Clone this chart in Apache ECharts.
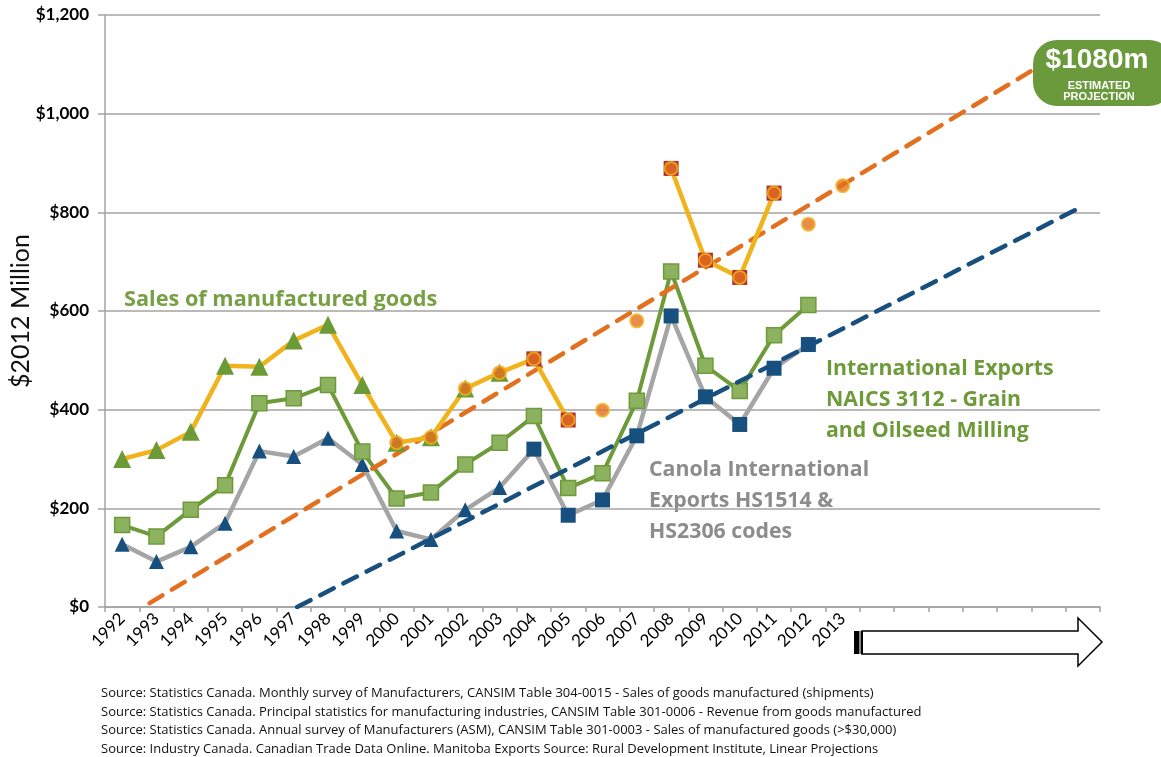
<!DOCTYPE html>
<html style="height: 100%">
<head>
    <meta charset="utf-8">
    <title>Manitoba grain and oilseed milling</title>
</head>
<body style="height: 100%; margin: 0">
<div id="container" style="width: 1161px; height: 757px"></div>

<script src="https://cdn.jsdelivr.net/npm/echarts@6/dist/echarts.min.js"></script>
<script type="text/javascript">
// years on the category axis (2014-2020 are left blank, room for the projection)
var years = [];
for (var y = 1992; y <= 2020; y++) years.push(String(y));
var lastLabelYear = 2013;

// Monthly survey of manufacturers - yellow line (1992-2011)
var salesShipments = [300, 318, 355, 489, 487, 540, 572, 450, 333, 344, 443, 475, 503, 379, null, null, 889, 703, 668, 839];
// Annual survey of manufacturers - orange dots (2000-2013)
var asmYears = [2000, 2001, 2002, 2003, 2004, 2005, 2006, 2007, 2008, 2009, 2010, 2011, 2012, 2013];
var asmSales = [333, 344, 443, 475, 503, 379, 399, 580, 889, 703, 668, 839, 776, 854];
// International exports NAICS 3112 (1992-2012)
var naicsExports = [166, 143, 197, 247, 413, 423, 450, 315, 220, 232, 289, 333, 387, 241, 271, 418, 680, 489, 438, 551, 612];
// Canola international exports HS1514 & HS2306 (1992-2012)
var canolaExports = [127, 92, 122, 170, 316, 305, 342, 289, 154, 137, 197, 242, 320, 186, 217, 347, 590, 426, 370, 484, 532];
// linear projections [year, value]
var salesTrend = [[1992.8, 8], [2018.6, 1091]];
var canolaTrend = [[1997.1, 0], [2019.9, 809]];

var sources = [
    'Source: Statistics Canada. Monthly survey of Manufacturers, CANSIM Table 304-0015 - Sales of goods manufactured (shipments)',
    'Source: Statistics Canada. Principal statistics for manufacturing industries, CANSIM Table 301-0006 - Revenue from goods manufactured',
    'Source: Statistics Canada. Annual survey of Manufacturers (ASM), CANSIM Table 301-0003 - Sales of manufactured goods (>$30,000)',
    'Source: Industry Canada. Canadian Trade Data Online. Manitoba Exports Source: Rural Development Institute, Linear Projections'
];

var GREEN = '#6E9B3A', YELLOW = '#F1B31C', NAVY = '#17507E', ORANGE = '#E3701F', GRID = '#A3A3A3';
var font = 'Lato, "Open Sans", sans-serif';
var noteFont = '"Open Sans", sans-serif';

var myChart = echarts.init(document.getElementById('container'));

var shipmentData = salesShipments.map(function (v, i) {
    var redSquare = i >= 12;
    return {
        value: v,
        symbol: redSquare ? 'rect' : 'triangle',
        symbolSize: redSquare ? 15 : 18,
        itemStyle: { color: redSquare ? '#B3302A' : '#6B9A36', borderWidth: 0 }
    };
});
var canolaData = canolaExports.map(function (v, i) {
    return { value: v, symbol: i >= 12 ? 'rect' : 'triangle', symbolSize: 15 };
});
var asmData = asmYears.map(function (yr, i) { return [String(yr), asmSales[i]]; });

option = {
    backgroundColor: '#ffffff',
    animation: false,
    textStyle: { fontFamily: font },
    grid: { left: 105, right: 61, top: 15, bottom: 150, containLabel: false, outerBoundsMode: 'none' },
    xAxis: [{
        type: 'category',
        data: years,
        boundaryGap: true,
        axisLine: { lineStyle: { color: GRID, width: 1.5 } },
        axisTick: { show: true, length: 5, lineStyle: { color: GRID, width: 1.5 } },
        axisLabel: {
            interval: 0,
            rotate: 45,
            margin: 9,
            color: '#000',
            fontSize: 17,
            fontFamily: font,
            formatter: function (v) { return +v <= lastLabelYear ? v : ''; }
        },
        splitLine: { show: false }
    }, {
        type: 'value',
        show: false,
        min: 1991.5,
        max: 2020.5
    }],
    yAxis: {
        type: 'value',
        min: 0,
        max: 1200,
        interval: 200,
        name: '$2012 Million',
        nameLocation: 'middle',
        nameGap: 72,
        nameMoveOverlap: false,
        nameTextStyle: { fontSize: 25, color: '#111', fontFamily: font },
        axisLine: { show: true, lineStyle: { color: GRID, width: 1.5 } },
        axisTick: { show: true, length: 7, lineStyle: { color: GRID, width: 1.5 } },
        axisLabel: {
            margin: 16,
            color: '#000',
            fontSize: 17,
            fontWeight: 'bold',
            fontFamily: font,
            formatter: function (v) { return '$' + v.toLocaleString('en-US'); }
        },
        splitLine: { lineStyle: { color: GRID, width: 1.5 } }
    },
    series: [
        {
            name: 'Canola International Exports HS1514 & HS2306',
            type: 'line',
            data: canolaData,
            lineStyle: { color: '#A5A5A5', width: 4.5 },
            itemStyle: { color: NAVY },
            z: 2
        },
        {
            name: 'International Exports NAICS 3112',
            type: 'line',
            data: naicsExports,
            symbol: 'rect',
            symbolSize: 15,
            lineStyle: { color: GREEN, width: 4 },
            itemStyle: { color: '#8DB25F', borderColor: GREEN, borderWidth: 1.5 },
            z: 3
        },
        {
            name: 'Canola projection',
            type: 'line',
            xAxisIndex: 1,
            data: canolaTrend,
            showSymbol: false,
            lineStyle: { color: NAVY, width: 4.5, type: [15, 11], cap: 'round' },
            z: 4
        },
        {
            name: 'Sales projection',
            type: 'line',
            xAxisIndex: 1,
            data: salesTrend,
            showSymbol: false,
            lineStyle: { color: ORANGE, width: 4.5, type: [15, 11], cap: 'round' },
            z: 4
        },
        {
            name: 'Sales of manufactured goods',
            type: 'line',
            data: shipmentData,
            connectNulls: false,
            lineStyle: { color: YELLOW, width: 4.5 },
            z: 5
        },
        {
            name: 'ASM sales',
            type: 'scatter',
            data: asmData,
            symbol: 'circle',
            symbolSize: 13,
            itemStyle: { color: ORANGE, borderColor: YELLOW, borderWidth: 2 },
            z: 6
        }
    ],
    graphic: [
        { type: 'text', left: 124, top: 289, style: { text: 'Sales of manufactured goods', fill: '#76A043', font: 'bold 21.7px ' + noteFont } },
        { type: 'text', left: 826, top: 353, style: { text: 'International Exports\nNAICS 3112 - Grain\nand Oilseed Milling', fill: '#6E9B3A', font: 'bold 21.3px ' + noteFont, lineHeight: 31 } },
        { type: 'text', left: 649, top: 454, style: { text: 'Canola International\nExports HS1514 &\nHS2306 codes', fill: '#8C8C8C', font: 'bold 21.3px ' + noteFont, lineHeight: 31 } },
        // projection badge
        { type: 'rect', shape: { x: 1033, y: 40, width: 140, height: 66, r: 24 }, style: { fill: '#6B9A3C' }, z: 10 },
        { type: 'text', x: 1097, y: 60, style: { text: '$1080m', fill: '#fff', font: 'bold 28px "Liberation Sans", Arial, sans-serif', align: 'center', verticalAlign: 'middle' }, z: 11 },
        { type: 'text', x: 1099, y: 91, style: { text: 'ESTIMATED\nPROJECTION', fill: '#fff', font: 'bold 11px "Liberation Sans", Arial, sans-serif', align: 'center', verticalAlign: 'middle', lineHeight: 11 }, z: 11 },
        // arrow pointing to the projected years
        { type: 'polygon', shape: { points: [[862, 631], [1078, 631], [1078, 618], [1102, 642], [1078, 666], [1078, 654], [862, 654]] }, style: { fill: '#fff', stroke: '#000', lineWidth: 1.5 } },
        { type: 'rect', shape: { x: 854, y: 631, width: 5, height: 23 }, style: { fill: '#000' } },
        { type: 'rect', shape: { x: 859, y: 631, width: 2, height: 23 }, style: { fill: '#888' } },
        { type: 'rect', shape: { x: 861, y: 631, width: 2, height: 23 }, style: { fill: '#000' } },
        // sources
        { type: 'text', left: 101, top: 684, style: { text: sources.join('\n'), fill: '#111', font: '13px ' + noteFont, lineHeight: 18.7 } }
    ]
};
myChart.setOption(option);
</script>
</body>
</html>
